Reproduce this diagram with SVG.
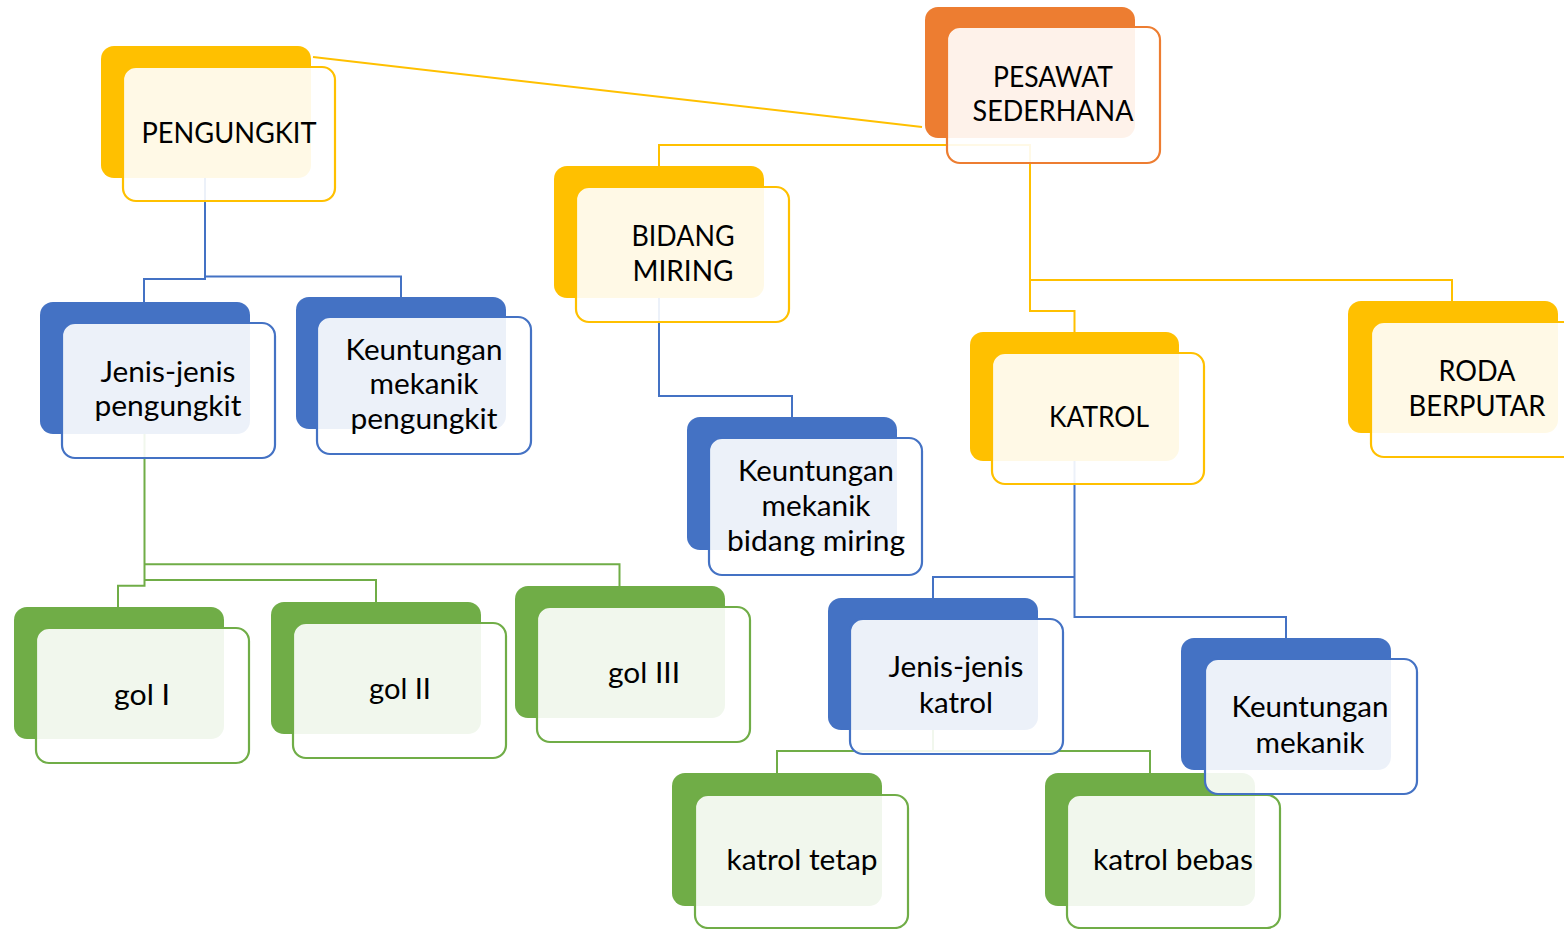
<svg xmlns="http://www.w3.org/2000/svg" width="1564" height="929" viewBox="0 0 1564 929">
<style>
.c{fill:none;stroke-width:2}
.cy{stroke:#FFC000}.cb{stroke:#4472C4}.cg{stroke:#70AD47}
.bo{fill:#ED7D31}.by{fill:#FFC000}.bb{fill:#4472C4}.bg{fill:#70AD47}
.f{fill:#FFFFFF;fill-opacity:0.9;stroke-width:2.2}
.fo{stroke:#ED7D31}.fy{stroke:#FFC000}.fb{stroke:#4472C4}.fg{stroke:#70AD47}
.t{font-family:Lato,"Open Sans",sans-serif;font-size:29px;fill:#000;text-anchor:middle}
</style>
<rect width="1564" height="929" fill="#FFFFFF"/>
<g id="connectors">
<path class="c cy" d="M313,57 L922,127"/>
<path class="c cy" d="M659,166 V145 H1030 V311 H1074.5 V332"/>
<path class="c cy" d="M1030,280 H1452 V301"/>
<path class="c cb" d="M205,178 V279 H144 V302"/>
<path class="c cb" d="M205,276.5 H401 V297"/>
<path class="c cb" d="M659,298 V396 H792 V417"/>
<path class="c cb" d="M1074.5,461 V617 H1286 V638"/>
<path class="c cb" d="M1074.5,577 H933 V598"/>
<path class="c cg" d="M144.5,434 V585.7 H118 V607"/>
<path class="c cg" d="M144.5,564.3 H619.5 V586"/>
<path class="c cg" d="M144.5,580 H376 V602"/>
<path class="c cg" d="M933,730 V751 H777 V773"/>
<path class="c cg" d="M933,751 H1150 V773"/>
</g>
<g id="pesawat">
<rect class="bo" x="925" y="7" width="210" height="131" rx="13"/>
<rect class="f fo" x="947" y="27" width="213" height="136" rx="13"/>
<text class="t" x="1053" y="87" textLength="120" lengthAdjust="spacingAndGlyphs">PESAWAT</text>
<text class="t" x="1053" y="121" textLength="161" lengthAdjust="spacingAndGlyphs">SEDERHANA</text>
</g>
<g id="pengungkit">
<rect class="by" x="101" y="46" width="210" height="132" rx="13"/>
<rect class="f fy" x="123" y="67" width="212" height="134" rx="13"/>
<text class="t" x="229" y="143" textLength="175" lengthAdjust="spacingAndGlyphs">PENGUNGKIT</text>
</g>
<g id="bidang-miring">
<rect class="by" x="554" y="166" width="210" height="132" rx="13"/>
<rect class="f fy" x="576" y="187" width="213" height="135" rx="13"/>
<text class="t" x="683" y="246" textLength="103" lengthAdjust="spacingAndGlyphs">BIDANG</text>
<text class="t" x="683" y="281" textLength="101" lengthAdjust="spacingAndGlyphs">MIRING</text>
</g>
<g id="katrol">
<rect class="by" x="970" y="332" width="209" height="129" rx="13"/>
<rect class="f fy" x="992" y="353" width="212" height="131" rx="13"/>
<text class="t" x="1099" y="427" textLength="100" lengthAdjust="spacingAndGlyphs">KATROL</text>
</g>
<g id="roda-berputar">
<rect class="by" x="1348" y="301" width="210" height="132" rx="13"/>
<rect class="f fy" x="1371" y="322" width="213" height="135" rx="13"/>
<text class="t" x="1477" y="381" textLength="77" lengthAdjust="spacingAndGlyphs">RODA</text>
<text class="t" x="1477" y="416" textLength="137" lengthAdjust="spacingAndGlyphs">BERPUTAR</text>
</g>
<g id="jenis-pengungkit">
<rect class="bb" x="40" y="302" width="210" height="132" rx="13"/>
<rect class="f fb" x="62" y="323" width="213" height="135" rx="13"/>
<text class="t" x="168" y="382" textLength="135" lengthAdjust="spacingAndGlyphs">Jenis-jenis</text>
<text class="t" x="168" y="416" textLength="147" lengthAdjust="spacingAndGlyphs">pengungkit</text>
</g>
<g id="keuntungan-pengungkit">
<rect class="bb" x="296" y="297" width="210" height="132" rx="13"/>
<rect class="f fb" x="317" y="317" width="214" height="137" rx="13"/>
<text class="t" x="424" y="360" textLength="157" lengthAdjust="spacingAndGlyphs">Keuntungan</text>
<text class="t" x="424" y="394" textLength="109" lengthAdjust="spacingAndGlyphs">mekanik</text>
<text class="t" x="424" y="429" textLength="147" lengthAdjust="spacingAndGlyphs">pengungkit</text>
</g>
<g id="keuntungan-bidang-miring">
<rect class="bb" x="687" y="417" width="210" height="133" rx="13"/>
<rect class="f fb" x="709" y="438" width="213" height="137" rx="13"/>
<text class="t" x="816" y="481" textLength="156" lengthAdjust="spacingAndGlyphs">Keuntungan</text>
<text class="t" x="816" y="516" textLength="109" lengthAdjust="spacingAndGlyphs">mekanik</text>
<text class="t" x="816" y="551" textLength="178" lengthAdjust="spacingAndGlyphs">bidang miring</text>
</g>
<g id="jenis-katrol">
<rect class="bb" x="828" y="598" width="210" height="132" rx="13"/>
<rect class="f fb" x="850" y="619" width="213" height="135" rx="13"/>
<text class="t" x="956" y="677" textLength="135" lengthAdjust="spacingAndGlyphs">Jenis-jenis</text>
<text class="t" x="956" y="713" textLength="74" lengthAdjust="spacingAndGlyphs">katrol</text>
</g>
<g id="gol-1">
<rect class="bg" x="14" y="607" width="210" height="132" rx="13"/>
<rect class="f fg" x="36" y="628" width="213" height="135" rx="13"/>
<text class="t" x="142" y="705" textLength="56" lengthAdjust="spacingAndGlyphs">gol I</text>
</g>
<g id="gol-2">
<rect class="bg" x="271" y="602" width="210" height="132" rx="13"/>
<rect class="f fg" x="293" y="623" width="213" height="135" rx="13"/>
<text class="t" x="400" y="699" textLength="62" lengthAdjust="spacingAndGlyphs">gol II</text>
</g>
<g id="gol-3">
<rect class="bg" x="515" y="586" width="210" height="132" rx="13"/>
<rect class="f fg" x="537" y="607" width="213" height="135" rx="13"/>
<text class="t" x="644" y="683" textLength="72" lengthAdjust="spacingAndGlyphs">gol III</text>
</g>
<g id="katrol-tetap">
<rect class="bg" x="672" y="773" width="210" height="133" rx="13"/>
<rect class="f fg" x="695" y="795" width="213" height="133" rx="13"/>
<text class="t" x="802" y="870" textLength="151" lengthAdjust="spacingAndGlyphs">katrol tetap</text>
</g>
<g id="katrol-bebas">
<rect class="bg" x="1045" y="773" width="210" height="133" rx="13"/>
<rect class="f fg" x="1067" y="795" width="213" height="133" rx="13"/>
<text class="t" x="1173" y="870" textLength="160" lengthAdjust="spacingAndGlyphs">katrol bebas</text>
</g>
<g id="keuntungan-katrol">
<rect class="bb" x="1181" y="638" width="210" height="132" rx="13"/>
<rect class="f fb" x="1205" y="659" width="212" height="135" rx="13"/>
<text class="t" x="1310" y="717" textLength="157" lengthAdjust="spacingAndGlyphs">Keuntungan</text>
<text class="t" x="1310" y="753" textLength="109" lengthAdjust="spacingAndGlyphs">mekanik</text>
</g>
</svg>
